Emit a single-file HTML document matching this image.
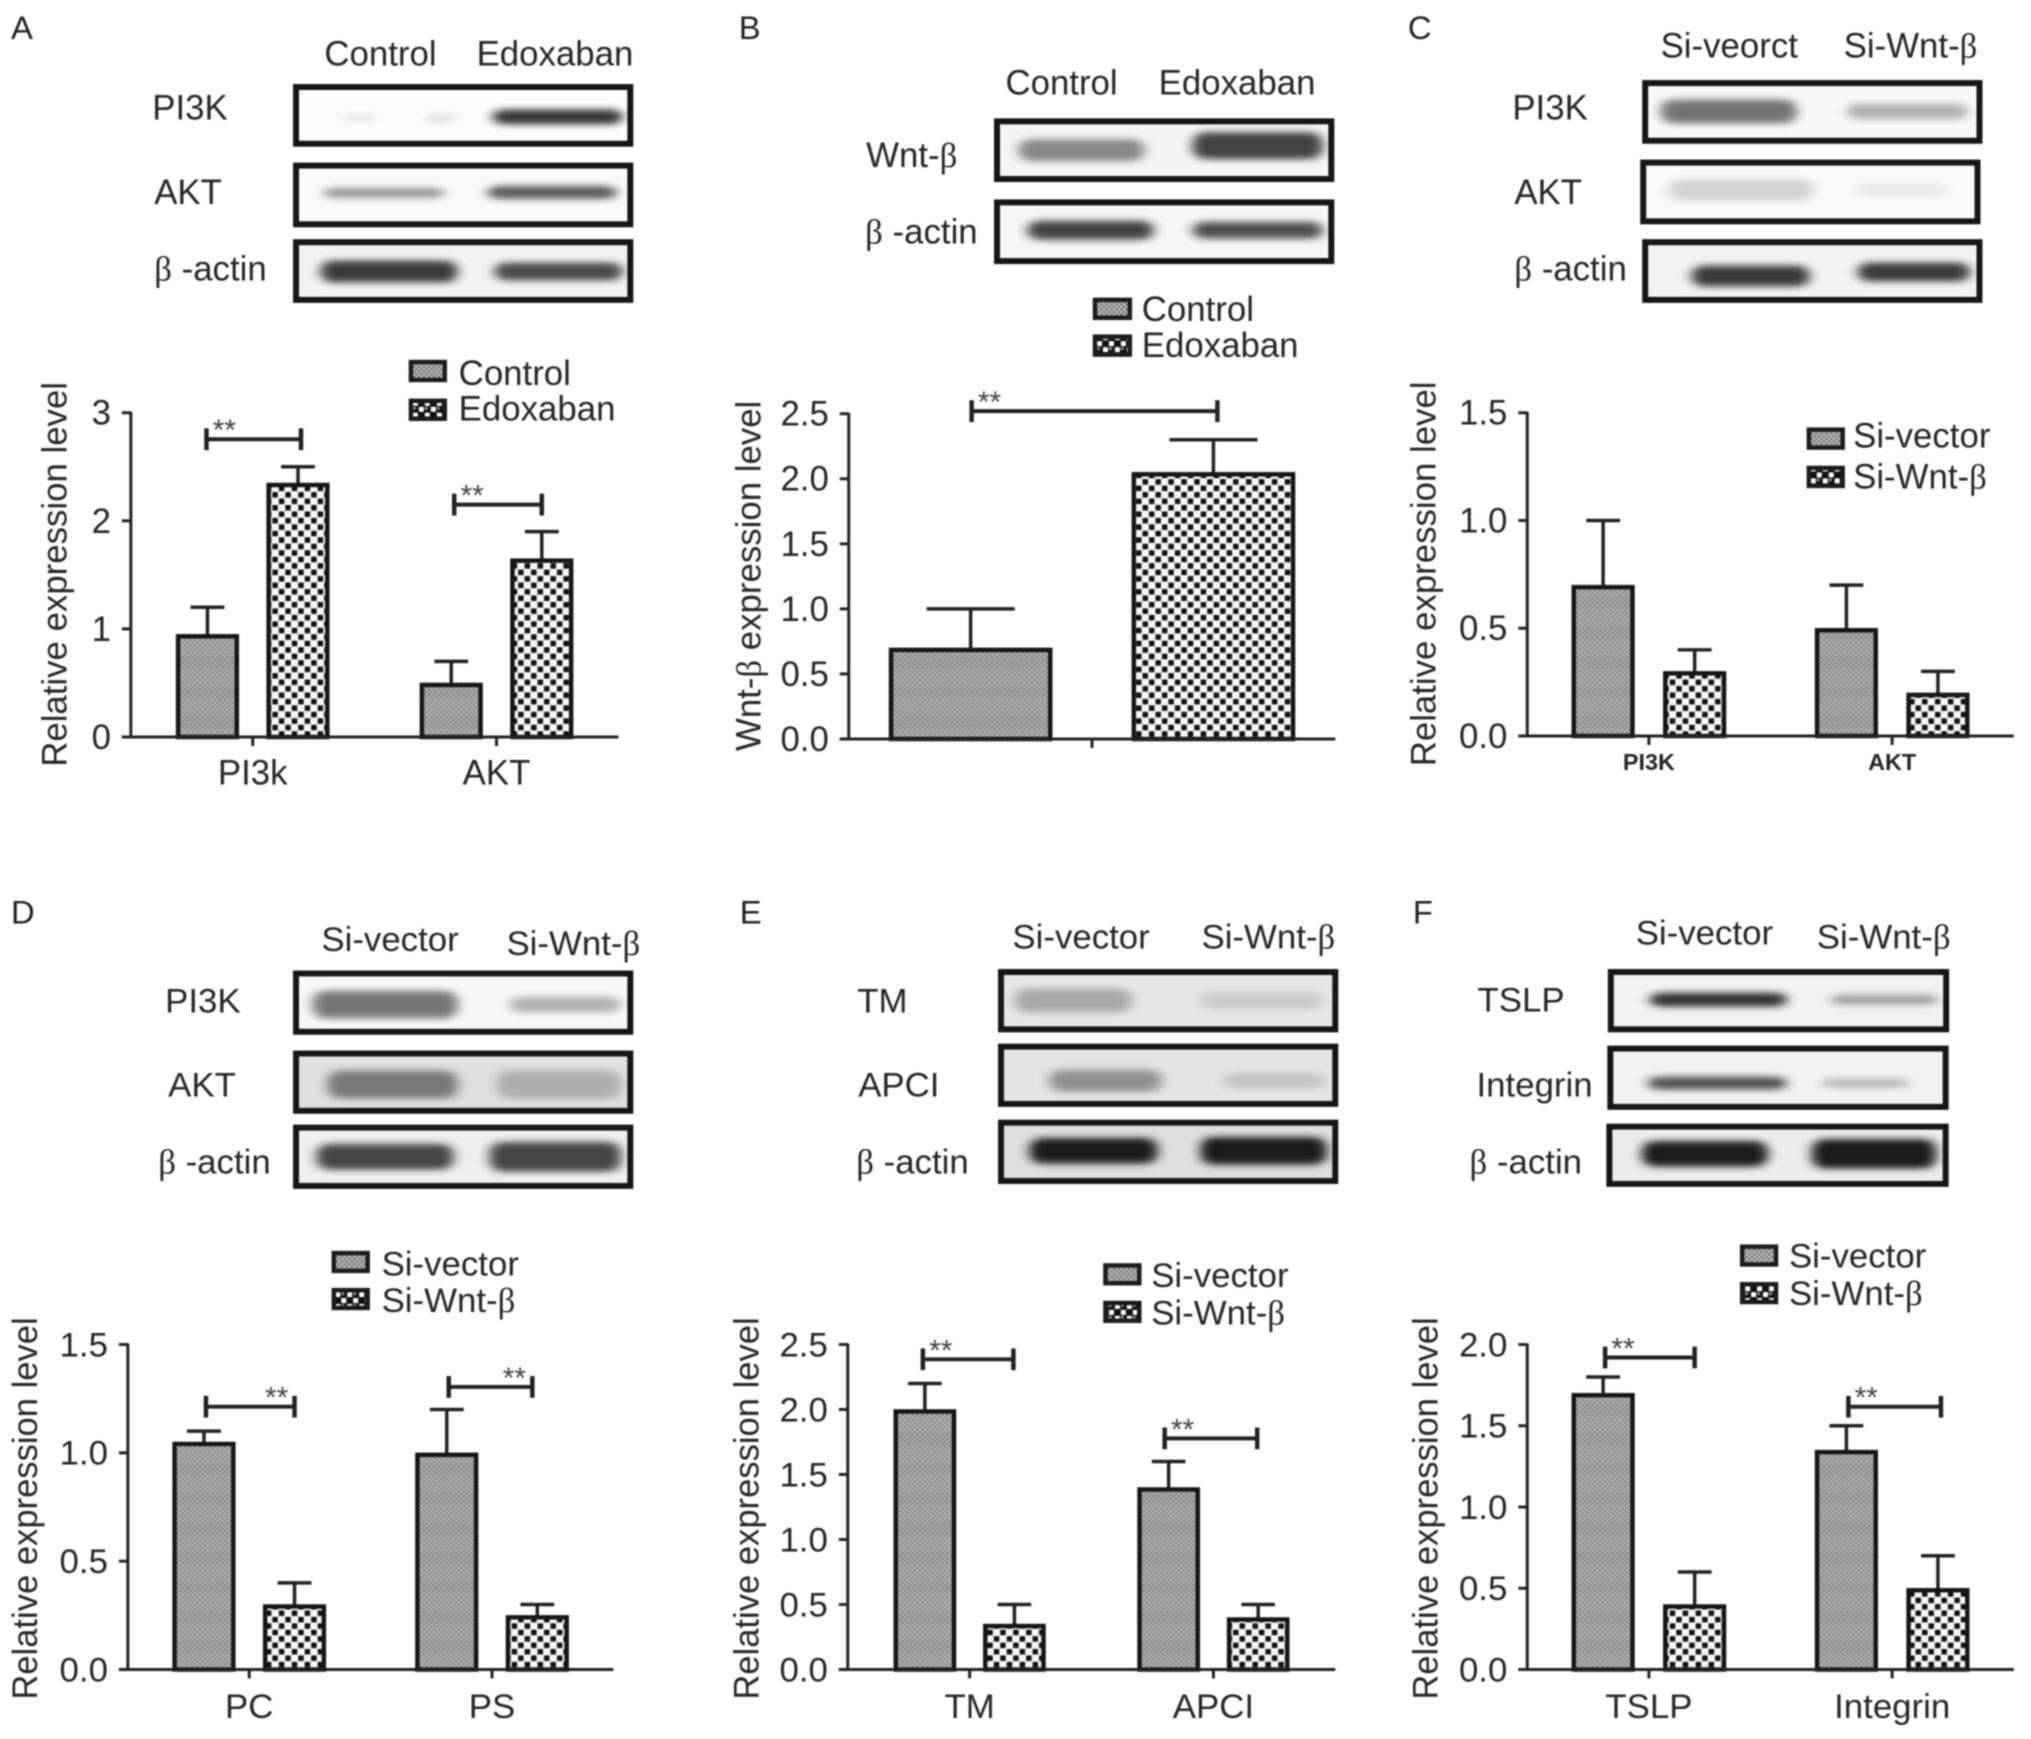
<!DOCTYPE html>
<html lang="en">
<head>
<meta charset="utf-8">
<title>Western blots and relative expression bar charts</title>
<style>
html,body{margin:0;padding:0;background:#fff;}
body{width:2031px;height:1739px;overflow:hidden;}
svg{display:block;filter:blur(0.7px);}
text{font-family:"Liberation Sans",sans-serif;fill:#262626;font-size:35px;}
.beta{font-family:"Liberation Serif",serif;}
.letter{font-size:33px;fill:#222;}
.box{fill:none;stroke:#161616;stroke-width:6;}
.band{fill:#1e1e1e;filter:url(#bandBlur);rx:12px;}
.sw1{fill:url(#swatchFine);stroke:#1c1c1c;stroke-width:4.5;}
.sw2{fill:url(#swatchCheck);stroke:#1c1c1c;stroke-width:4.5;}
</style>
</head>
<body>
<svg id="figure" xmlns="http://www.w3.org/2000/svg" width="2031" height="1739" viewBox="0 0 2031 1739">
<defs>
<filter id="bandBlur" x="-30%" y="-150%" width="160%" height="400%"><feGaussianBlur stdDeviation="6 3.5"/></filter>
<pattern id="patDots" width="5" height="5" patternUnits="userSpaceOnUse">
<rect width="5" height="5" fill="#8a8a8a"/>
<rect x="0" y="0" width="2.2" height="2.2" fill="#c4c4c4"/>
<rect x="2.5" y="2.5" width="2.2" height="2.2" fill="#c4c4c4"/>
</pattern>
<pattern id="patFine" width="30" height="30" patternUnits="userSpaceOnUse">
<rect width="30" height="30" fill="url(#patDots)"/>
<rect y="0" width="30" height="12" fill="#000" opacity=".035"/>
</pattern>
<pattern id="patCheck" width="13" height="13" patternUnits="userSpaceOnUse">
<rect width="13" height="13" fill="#f6f6f6"/>
<rect x="0.75" y="0.75" width="5.5" height="5.5" fill="#111"/>
<rect x="7.25" y="7.25" width="5.5" height="5.5" fill="#111"/>
</pattern>
<pattern id="swatchFine" width="5" height="5" patternUnits="userSpaceOnUse">
<rect width="5" height="5" fill="#777"/>
<rect x="0" y="0" width="2.4" height="2.4" fill="#c8c8c8"/>
<rect x="2.5" y="2.5" width="2.4" height="2.4" fill="#c8c8c8"/>
</pattern>
<pattern id="swatchCheck" width="12" height="12" patternUnits="userSpaceOnUse">
<rect width="12" height="12" fill="#111"/>
<rect x="1" y="1" width="5" height="5" fill="#fff"/>
<rect x="7" y="7" width="5" height="5" fill="#fff"/>
<rect x="7" y="1" width="3" height="3" fill="#888"/>
</pattern>
</defs>
<rect width="2031" height="1739" fill="#fff"/>

<!-- Panel A -->
<g id="panel-a" transform="scale(.995,.9946)">
<text class="letter" x="11" y="39">A</text>
<g>
<text x="326" y="66">Control</text>
<text x="479" y="66">Edoxaban</text>
<text x="153" y="120">PI3K</text>
<text x="155" y="205">AKT</text>
<text x="155" y="282"><tspan class="beta">β</tspan> -actin</text>
<rect x="295" y="85" width="341" height="62" fill="#fcfcfc"/>
<rect class="band" x="344" y="115" width="35" height="7" opacity=".1"/>
<rect class="band" x="427" y="115" width="31" height="8" opacity=".14"/>
<rect class="band" x="495" y="110" width="131" height="15" opacity=".88"/>
<rect class="box" x="297.5" y="87.5" width="336" height="57"/>
<rect x="295" y="164" width="341" height="64" fill="#fafafa"/>
<rect class="band" x="325" y="189" width="122" height="10" opacity=".45"/>
<rect class="band" x="490" y="187" width="130" height="13" opacity=".72"/>
<rect class="box" x="297.5" y="166.5" width="336" height="59"/>
<rect x="295" y="241" width="341" height="63" fill="#f2f2f2"/>
<rect class="band" x="322" y="262" width="138" height="22" opacity=".85"/>
<rect class="band" x="497" y="264" width="129" height="18" opacity=".78"/>
<rect class="box" x="297.5" y="243.5" width="336" height="58"/>
</g>
<g>
<rect class="sw1" x="413" y="364" width="34" height="18"/>
<text x="461" y="387">Control</text>
<rect class="sw2" x="413" y="403" width="34" height="18"/>
<text x="461" y="423">Edoxaban</text>
</g>
<text transform="translate(67,577.5) rotate(-90)" text-anchor="middle">Relative expression level</text>
<g id="marks-a"></g>
</g>

<!-- Panel B -->
<g id="panel-b" transform="translate(700,0) scale(.995,.9946) translate(-700,0)">
<text class="letter" x="739" y="39">B</text>
<g>
<text x="1007" y="95">Control</text>
<text x="1161" y="95">Edoxaban</text>
<text x="867" y="168">Wnt-<tspan class="beta">β</tspan></text>
<text x="866" y="245"><tspan class="beta">β</tspan> -actin</text>
<rect x="996" y="120" width="341" height="63" fill="#f4f4f4"/>
<rect class="band" x="1020" y="140" width="127" height="22" opacity=".5"/>
<rect class="band" x="1195" y="133" width="131" height="27" opacity=".82"/>
<rect class="box" x="998.5" y="122" width="336" height="58"/>
<rect x="996" y="201" width="341" height="64" fill="#f6f6f6"/>
<rect class="band" x="1029" y="222" width="127" height="19" opacity=".82"/>
<rect class="band" x="1195" y="223" width="131" height="17" opacity=".76"/>
<rect class="box" x="998.5" y="203.5" width="336" height="59"/>
</g>
<g>
<rect class="sw1" x="1097" y="301.5" width="35" height="18"/>
<text x="1144" y="323">Control</text>
<rect class="sw2" x="1097" y="338.5" width="35" height="18"/>
<text x="1144" y="359">Edoxaban</text>
</g>
<text transform="translate(761,579) rotate(-90)" text-anchor="middle">Wnt-<tspan class="beta">β</tspan> expression level</text>
<g id="marks-b"></g>
</g>

<!-- Panel C -->
<g id="panel-c" transform="translate(1380,0) scale(.995,.9946) translate(-1380,0)">
<text class="letter" x="1408" y="39">C</text>
<g>
<text x="1662" y="58">Si-veorct</text>
<text x="1846" y="58">Si-Wnt-<tspan class="beta">β</tspan></text>
<text x="1513" y="120">PI3K</text>
<text x="1515" y="205">AKT</text>
<text x="1515" y="282"><tspan class="beta">β</tspan> -actin</text>
<rect x="1644" y="81" width="341" height="63" fill="#f8f8f8"/>
<rect class="band" x="1662" y="100" width="137" height="24" opacity=".6"/>
<rect class="band" x="1849" y="104" width="122" height="16" opacity=".32"/>
<rect class="box" x="1646.5" y="83.5" width="336" height="58"/>
<rect x="1642" y="161" width="341" height="64" fill="#fafafa"/>
<rect class="band" x="1670" y="180" width="146" height="22" opacity=".17"/>
<rect class="band" x="1858" y="185" width="92" height="12" opacity=".08"/>
<rect class="box" x="1644.5" y="163.5" width="336" height="59"/>
<rect x="1644" y="241" width="341" height="63" fill="#f2f2f2"/>
<rect class="band" x="1693" y="267" width="119" height="21" opacity=".85"/>
<rect class="band" x="1860" y="264" width="113" height="19" opacity=".85"/>
<rect class="box" x="1646.5" y="243.5" width="336" height="58"/>
</g>
<g>
<rect class="sw1" x="1811" y="432" width="34" height="18"/>
<text x="1855.5" y="450">Si-vector</text>
<rect class="sw2" x="1811" y="470.5" width="34" height="18"/>
<text x="1855.5" y="491">Si-Wnt-<tspan class="beta">β</tspan></text>
</g>
<text transform="translate(1436,577) rotate(-90)" text-anchor="middle">Relative expression level</text>
<g id="marks-c"></g>
</g>

<!-- Panel D -->
<g id="panel-d" transform="translate(0,890) scale(.995,.988) translate(0,-890)">
<text class="letter" x="11" y="924">D</text>
<g>
<text x="323" y="952">Si-vector</text>
<text x="509" y="956">Si-Wnt-<tspan class="beta">β</tspan></text>
<text x="166" y="1014">PI3K</text>
<text x="169" y="1099">AKT</text>
<text x="159" y="1177"><tspan class="beta">β</tspan> -actin</text>
<rect x="295" y="972" width="341" height="64" fill="#f8f8f8"/>
<rect class="band" x="314" y="992" width="146" height="28" opacity=".58"/>
<rect class="band" x="512" y="998" width="112" height="16" opacity=".32"/>
<rect class="box" x="297.5" y="974.5" width="336" height="59"/>
<rect x="295" y="1053" width="341" height="63" fill="#dfdfdf"/>
<rect class="band" x="329" y="1073" width="131" height="28" opacity=".52"/>
<rect class="band" x="499" y="1073" width="125" height="28" opacity=".25"/>
<rect class="box" x="297.5" y="1055.5" width="336" height="58"/>
<rect x="295" y="1128" width="341" height="64" fill="#eee"/>
<rect class="band" x="318" y="1147" width="138" height="26" opacity=".8"/>
<rect class="band" x="492" y="1145" width="132" height="30" opacity=".8"/>
<rect class="box" x="297.5" y="1130.5" width="336" height="59"/>
</g>
<g>
<rect class="sw1" x="335.5" y="1257.5" width="34" height="18"/>
<text x="383.5" y="1280">Si-vector</text>
<rect class="sw2" x="335.5" y="1295" width="34" height="18"/>
<text x="383.5" y="1317">Si-Wnt-<tspan class="beta">β</tspan></text>
</g>
<text transform="translate(37,1516) rotate(-90)" text-anchor="middle">Relative expression level</text>
<g id="marks-d"></g>
</g>

<!-- Panel E -->
<g id="panel-e" transform="translate(700,890) scale(.995,.988) translate(-700,-890)">
<text class="letter" x="740" y="924">E</text>
<g>
<text x="1014" y="949">Si-vector</text>
<text x="1204" y="949">Si-Wnt-<tspan class="beta">β</tspan></text>
<text x="858" y="1014">TM</text>
<text x="859" y="1099">APCI</text>
<text x="857" y="1177"><tspan class="beta">β</tspan> -actin</text>
<rect x="1000" y="971" width="341" height="63" fill="#e6e6e6"/>
<rect class="band" x="1016" y="990" width="118" height="24" opacity=".3"/>
<rect class="band" x="1203" y="993" width="123" height="18" opacity=".13"/>
<rect class="box" x="1002.5" y="973" width="336" height="58"/>
<rect x="1000" y="1046" width="341" height="63" fill="#e4e4e4"/>
<rect class="band" x="1051" y="1072" width="113" height="22" opacity=".42"/>
<rect class="band" x="1225" y="1075" width="103" height="16" opacity=".15"/>
<rect class="box" x="1002.5" y="1048.5" width="336" height="58"/>
<rect x="1000" y="1123" width="341" height="64" fill="#dedede"/>
<rect class="band" x="1031" y="1141" width="129" height="26"/>
<rect class="band" x="1203" y="1140" width="127" height="28"/>
<rect class="box" x="1002.5" y="1125.5" width="336" height="59"/>
</g>
<g>
<rect class="sw1" x="1107.5" y="1270" width="34" height="18"/>
<text x="1153.5" y="1292">Si-vector</text>
<rect class="sw2" x="1107.5" y="1308" width="34" height="18"/>
<text x="1153.5" y="1330">Si-Wnt-<tspan class="beta">β</tspan></text>
</g>
<text transform="translate(759,1516) rotate(-90)" text-anchor="middle">Relative expression level</text>
<g id="marks-e"></g>
</g>

<!-- Panel F -->
<g id="panel-f" transform="translate(1380,890) scale(.995,.988) translate(-1380,-890)">
<text class="letter" x="1413" y="924">F</text>
<g>
<text x="1637" y="945">Si-vector</text>
<text x="1819" y="949">Si-Wnt-<tspan class="beta">β</tspan></text>
<text x="1478" y="1013">TSLP</text>
<text x="1477" y="1099">Integrin</text>
<text x="1470" y="1177"><tspan class="beta">β</tspan> -actin</text>
<rect x="1610" y="971" width="342" height="63" fill="#f2f2f2"/>
<rect class="band" x="1651" y="994" width="138" height="14" opacity=".9"/>
<rect class="band" x="1833" y="996" width="108" height="10" opacity=".4"/>
<rect class="box" x="1612" y="973" width="337" height="58"/>
<rect x="1609" y="1048" width="342" height="64" fill="#f2f2f2"/>
<rect class="band" x="1649" y="1079" width="140" height="13" opacity=".75"/>
<rect class="band" x="1824" y="1081" width="88" height="9" opacity=".28"/>
<rect class="box" x="1611.5" y="1050.5" width="337" height="59"/>
<rect x="1608" y="1127" width="343" height="63" fill="#ececec"/>
<rect class="band" x="1643" y="1144" width="127" height="26"/>
<rect class="band" x="1814" y="1142" width="125" height="30"/>
<rect class="box" x="1610.5" y="1129.5" width="338" height="58"/>
</g>
<g>
<rect class="sw1" x="1744" y="1251" width="34" height="18"/>
<text x="1791" y="1272">Si-vector</text>
<rect class="sw2" x="1744" y="1289" width="34" height="18"/>
<text x="1791" y="1310">Si-Wnt-<tspan class="beta">β</tspan></text>
</g>
<text transform="translate(1438,1516) rotate(-90)" text-anchor="middle">Relative expression level</text>
<g id="marks-f"></g>
</g>
</svg>

<script>
// Panel A values
const aCategories = ['PI3k', 'AKT'];
const aSeries1 = [0.95, 0.5];
const aError1 = [0.25, 0.2];
const aSeries2 = [2.35, 1.65];
const aError2 = [0.15, 0.25];
const aTicks = [0, 1, 2, 3];
const aTickLabels = ['0', '1', '2', '3'];
const aBrackets = [2.755, 2.15];
// Panel B values
const bCategories = [''];
const bSeries1 = [0.7];
const bError1 = [0.3];
const bSeries2 = [2.05];
const bError2 = [0.25];
const bTicks = [0, 0.5, 1, 1.5, 2, 2.5];
const bTickLabels = ['0.0', '0.5', '1.0', '1.5', '2.0', '2.5'];
const bBrackets = [2.52];
// Panel C values
const cCategories = ['PI3K', 'AKT'];
const cSeries1 = [0.7, 0.5];
const cError1 = [0.3, 0.2];
const cSeries2 = [0.3, 0.2];
const cError2 = [0.1, 0.1];
const cTicks = [0, 0.5, 1, 1.5];
const cTickLabels = ['0.0', '0.5', '1.0', '1.5'];
const cBrackets = [];
// Panel D values
const dCategories = ['PC', 'PS'];
const dSeries1 = [1.05, 1.0];
const dError1 = [0.05, 0.2];
const dSeries2 = [0.3, 0.25];
const dError2 = [0.1, 0.05];
const dTicks = [0, 0.5, 1, 1.5];
const dTickLabels = ['0.0', '0.5', '1.0', '1.5'];
const dBrackets = [1.213, 1.304];
// Panel E values
const eCategories = ['TM', 'APCI'];
const eSeries1 = [2.0, 1.4];
const eError1 = [0.2, 0.2];
const eSeries2 = [0.35, 0.4];
const eError2 = [0.15, 0.1];
const eTicks = [0, 0.5, 1, 1.5, 2, 2.5];
const eTickLabels = ['0.0', '0.5', '1.0', '1.5', '2.0', '2.5'];
const eBrackets = [2.386, 1.778];
// Panel F values
const fCategories = ['TSLP', 'Integrin'];
const fSeries1 = [1.7, 1.35];
const fError1 = [0.1, 0.15];
const fSeries2 = [0.4, 0.5];
const fError2 = [0.2, 0.2];
const fTicks = [0, 0.5, 1, 1.5, 2];
const fTickLabels = ['0.0', '0.5', '1.0', '1.5', '2.0'];
const fBrackets = [1.92, 1.617];

const panels = [
  {id:'a', cats:aCategories, s1:aSeries1, e1:aError1, s2:aSeries2, e2:aError2, ticks:aTicks, labels:aTickLabels, brackets:aBrackets, nudge:[[-3,4],[1,1]], left:131.5, right:621.5, top:415, bottom:741, barW:63, gap:28, starSide:'left', catBaseline:789, catSize:35, catWeight:'normal'},
  {id:'b', cats:bCategories, s1:bSeries1, e1:bError1, s2:bSeries2, e2:bError2, ticks:bTicks, labels:bTickLabels, brackets:bBrackets, nudge:[[-1,5]], left:849.5, right:1338.5, top:416, bottom:743, barW:164, gap:80, starSide:'left', catBaseline:789, catSize:35, catWeight:'normal'},
  {id:'c', cats:cCategories, s1:cSeries1, e1:cError1, s2:cSeries2, e2:cError2, ticks:cTicks, labels:cTickLabels, brackets:cBrackets, nudge:[], left:1528, right:2017, top:415, bottom:740, barW:63, gap:29, starSide:'left', catBaseline:774, catSize:23.5, catWeight:'bold'},
  {id:'d', cats:dCategories, s1:dSeries1, e1:dError1, s2:dSeries2, e2:dError2, ticks:dTicks, labels:dTickLabels, brackets:dBrackets, nudge:[[0,1],[0,-4]], left:128.5, right:616.5, top:1350, bottom:1679, barW:63, gap:28, starSide:'right', catBaseline:1728, catSize:35, catWeight:'normal'},
  {id:'e', cats:eCategories, s1:eSeries1, e1:eError1, s2:eSeries2, e2:eError2, ticks:eTicks, labels:eTickLabels, brackets:eBrackets, nudge:[[-4,0],[-6,0]], left:848.5, right:1338.5, top:1350, bottom:1679, barW:62.5, gap:27.5, starSide:'left', catBaseline:1728, catSize:35, catWeight:'normal'},
  {id:'f', cats:fCategories, s1:fSeries1, e1:fError1, s2:fSeries2, e2:fError2, ticks:fTicks, labels:fTickLabels, brackets:fBrackets, nudge:[[0,1],[0,4]], left:1528, right:2017, top:1350, bottom:1679, barW:63, gap:29, starSide:'left', catBaseline:1728, catSize:35, catWeight:'normal'}
];

const SVG_NS = 'http://www.w3.org/2000/svg';
const INK = '#222';

function make(tag, attrs, parent) {
  const el = document.createElementNS(SVG_NS, tag);
  for (const k in attrs) el.setAttribute(k, attrs[k]);
  parent.appendChild(el);
  return el;
}

function drawLine(parent, x1, y1, x2, y2, width, name) {
  const line = make('line', {x1: x1, y1: y1, x2: x2, y2: y2, stroke: INK, 'stroke-width': width}, parent);
  
  
  return line;
}

function drawPanel(p) {
  const g = document.getElementById('marks-' + p.id);
  const yMax = p.ticks[p.ticks.length - 1];
  const y = function (v) { return p.bottom - (v / yMax) * (p.bottom - p.top); };
  const step = (p.right - p.left) / p.cats.length;
  const catX = function (i) { return p.left + step * (i + 0.5); };
  const barX = function (i, s) { return catX(i) + (s === 0 ? -1 : 1) * (p.gap + p.barW) / 2; };

  p.cats.forEach(function (cat, i) {
    [[p.s1, p.e1, 'url(#patFine)'], [p.s2, p.e2, 'url(#patCheck)']].forEach(function (set, s) {
      const value = set[0][i];
      const err = set[1][i];
      const cx = barX(i, s);
      const capHalf = p.barW * 0.27;
      drawLine(g, cx, y(value), cx, y(value + err), 3.5, 'error-bar-' + p.id + '-' + i + '-' + s);
      drawLine(g, cx - capHalf, y(value + err), cx + capHalf, y(value + err), 3.5, 'error-cap-' + p.id + '-' + i + '-' + s);
      const bar = make('rect', {x: cx - p.barW / 2 + 2, y: y(value) + 2, width: p.barW - 4, height: Math.max(0, y(0) - y(value) - 2), fill: set[2], stroke: '#161616', 'stroke-width': 4.5}, g);
      
      
    });
    drawLine(g, catX(i), p.bottom, catX(i), p.bottom + 9, 3, 'x-tick-' + p.id + '-' + i);
    if (cat) {
      const label = make('text', {x: catX(i), y: p.catBaseline, 'text-anchor': 'middle', style: 'font-size:' + p.catSize + 'px;font-weight:' + p.catWeight}, g);
      label.textContent = cat;
      
      
    }
  });

  drawLine(g, p.left, p.top - 1, p.left, p.bottom + 1, 3, 'y-axis-' + p.id);
  drawLine(g, p.left - 9, p.bottom, p.right, p.bottom, 3, 'x-axis-' + p.id);

  p.ticks.forEach(function (t, i) {
    drawLine(g, p.left - 9, y(t), p.left, y(t), 3, 'y-tick-' + p.id + '-' + i);
    const tl = make('text', {x: p.left - 20, y: y(t) + 12, 'text-anchor': 'end'}, g);
    tl.textContent = p.labels[i];
    
    
  });

  p.brackets.forEach(function (level, i) {
    const x1 = barX(i, 0) + 2 + p.nudge[i][0];
    const x2 = barX(i, 1) - 1 + p.nudge[i][1];
    const by = y(level);
    drawLine(g, x1, by, x2, by, 4, 'significance-bar-' + p.id + '-' + i);
    drawLine(g, x1, by - 11, x1, by + 11, 4.5, 'significance-cap-left-' + p.id + '-' + i);
    drawLine(g, x2, by - 11, x2, by + 11, 4.5, 'significance-cap-right-' + p.id + '-' + i);
    const sx = p.starSide === 'left' ? x1 + 18 : x2 - 18;
    const star = make('text', {x: sx, y: by + 1, 'text-anchor': 'middle', style: 'font-size:30px;fill:#444'}, g);
    star.textContent = '**';
    
    
  });
}

panels.forEach(drawPanel);
</script>
</body>
</html>
